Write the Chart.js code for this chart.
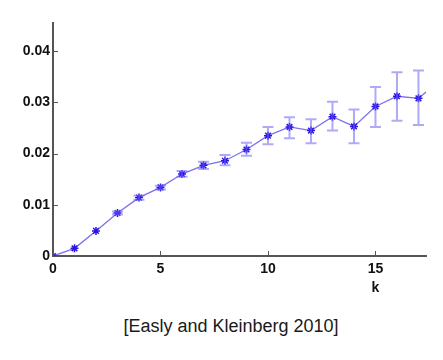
<!DOCTYPE html>
<html>
<head>
<meta charset="utf-8">
<script src="https://cdn.jsdelivr.net/npm/chart.js@4"></script>
<style>
  body { margin: 0; background: #fff; }
  #wrap { position: relative; width: 443px; height: 360px; }
  #caption {
    position: absolute; left: 0; width: 462px; top: 316px;
    text-align: center; font-family: "Liberation Sans", Arial, sans-serif;
    font-size: 18px; color: #1a1a1a;
  }
</style>
</head>
<body>
<div id="wrap">
  <canvas id="chart" width="443" height="300"></canvas>
  <div id="caption">[Easly and Kleinberg 2010]</div>
</div>
<script>
// k values and mean with error bar bounds
const kValues = [0, 1, 2, 3, 4, 5, 6, 7, 8, 9, 10, 11, 12, 13, 14, 15, 16, 17, 18];
const means = [0, 0.0015, 0.0049, 0.0084, 0.0114, 0.0134, 0.0160, 0.0177, 0.0186, 0.0208, 0.0235, 0.0252, 0.0245, 0.0272, 0.0253, 0.0292, 0.0312, 0.0308, 0.0342];
const upper = [0, 0.0017, 0.0051, 0.0087, 0.0118, 0.0137, 0.0166, 0.0184, 0.0197, 0.0221, 0.0252, 0.0271, 0.0267, 0.0301, 0.0286, 0.0330, 0.0359, 0.0362];
const lower = [0, 0.0013, 0.0047, 0.0081, 0.0110, 0.0130, 0.0155, 0.0170, 0.0177, 0.0196, 0.0218, 0.0230, 0.0220, 0.0245, 0.0220, 0.0252, 0.0264, 0.0256];
const xTicks = [0, 5, 10, 15];
const yTicks = [0, 0.01, 0.02, 0.03, 0.04];

const tickFont = { family: '"Liberation Sans", Arial, sans-serif', size: 14, weight: 'bold' };

// error bars + inward tick marks + 'k' label
const extras = {
  id: 'extras',
  afterDatasetsDraw(chart) {
    const { ctx, chartArea, scales: { x, y } } = chart;
    ctx.save();
    ctx.beginPath();
    ctx.rect(chartArea.left, chartArea.top - 5, chartArea.width, chartArea.height + 5);
    ctx.clip();
    ctx.strokeStyle = 'rgba(110, 100, 242, 0.55)';
    ctx.lineWidth = 2;
    upper.forEach((hi, i) => {
      const px = x.getPixelForValue(kValues[i]);
      const top = y.getPixelForValue(hi);
      const bot = y.getPixelForValue(lower[i]);
      if (bot - top < 3) return;
      ctx.beginPath();
      ctx.moveTo(px, top); ctx.lineTo(px, bot);
      ctx.moveTo(px - 5.5, top); ctx.lineTo(px + 5.5, top);
      ctx.moveTo(px - 5.5, bot); ctx.lineTo(px + 5.5, bot);
      ctx.stroke();
    });
    ctx.restore();

    ctx.save();
    ctx.strokeStyle = '#555';
    ctx.lineWidth = 1;
    xTicks.forEach(v => {
      const px = Math.round(x.getPixelForValue(v)) + 0.5;
      ctx.beginPath();
      ctx.moveTo(px, chartArea.bottom);
      ctx.lineTo(px, chartArea.bottom - 5);
      ctx.stroke();
    });
    yTicks.forEach(v => {
      const py = Math.round(y.getPixelForValue(v)) + 0.5;
      ctx.beginPath();
      ctx.moveTo(chartArea.left, py);
      ctx.lineTo(chartArea.left + 5, py);
      ctx.stroke();
    });
    ctx.fillStyle = '#111';
    ctx.font = 'bold 14px "Liberation Sans", Arial, sans-serif';
    ctx.textAlign = 'center';
    ctx.textBaseline = 'middle';
    ctx.fillText('k', x.getPixelForValue(15), chartArea.bottom + 32);
    ctx.restore();
  }
};

new Chart(document.getElementById('chart'), {
  type: 'scatter',
  data: {
    datasets: [{
      data: kValues.map((k, i) => ({ x: k, y: means[i] })),
      showLine: true,
      borderColor: '#7c70f0',
      borderWidth: 1.3,
      pointStyle: 'star',
      pointRadius: 4,
      pointBorderColor: '#2c14e6',
      pointBorderWidth: 1.5,
      pointBackgroundColor: '#2c14e6',
    }],
  },
  options: {
    responsive: false,
    animation: false,
    layout: { padding: { top: 23, right: 17, left: 0, bottom: 0 } },
    plugins: { legend: { display: false }, tooltip: { enabled: false } },
    scales: {
      x: {
        type: 'linear',
        min: 0,
        max: 17.35,
        afterBuildTicks: s => { s.ticks = xTicks.map(v => ({ value: v })); },
        afterFit: s => { s.height = 44; },
        grid: { display: true, drawOnChartArea: false, drawTicks: false },
        border: { color: '#555', width: 2 },
        ticks: { color: '#111', font: tickFont, padding: 5, maxRotation: 0 },
      },
      y: {
        min: 0,
        max: 0.0455,
        afterBuildTicks: s => { s.ticks = yTicks.map(v => ({ value: v })); },
        afterFit: s => { s.width = 53; },
        grid: { display: true, drawOnChartArea: false, drawTicks: false },
        border: { color: '#555', width: 2 },
        ticks: { color: '#111', font: tickFont, padding: 3, callback: v => v === 0 ? '0' : v.toFixed(2) },
      },
    },
  },
  plugins: [extras],
});
</script>
</body>
</html>
